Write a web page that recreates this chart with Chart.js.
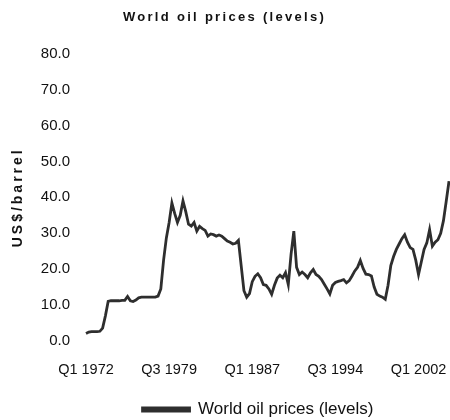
<!DOCTYPE html>
<html><head><meta charset="utf-8">
<script src="https://cdn.jsdelivr.net/npm/chart.js@4/dist/chart.umd.min.js"></script>
<style>html,body{margin:0;padding:0;background:#fff}</style>
</head><body>
<canvas id="c" width="450" height="420"></canvas>
<script>
// Categories: quarterly from Q1 1972 to Q4 2004
const startYear = 1972, endYear = 2004;
const quarters = [];
for (let y = startYear; y <= endYear; y++) for (let q = 1; q <= 4; q++) quarters.push('Q' + q + ' ' + y);
const shownTicks = ['Q1 1972', 'Q3 1979', 'Q1 1987', 'Q3 1994', 'Q1 2002'];
const yTickValues = [0, 10, 20, 30, 40, 50, 60, 70, 80];
const seriesName = 'World oil prices (levels)';
const oilPrices = [
  2.1, 2.5, 2.6, 2.6, 2.6, 2.7, 3.6, 7.0, 11.0, 11.2,
  11.2, 11.2, 11.2, 11.3, 11.3, 12.4, 11.2, 11.0, 11.4, 12.0,
  12.2, 12.2, 12.2, 12.2, 12.2, 12.2, 12.5, 14.5, 22.5, 28.7,
  33.0, 38.4, 35.5, 33.0, 35.0, 39.0, 36.0, 32.5, 32.0, 33.0,
  30.6, 31.9, 31.3, 30.8, 29.2, 29.8, 29.6, 29.2, 29.5, 29.2,
  28.5, 27.8, 27.5, 27.0, 27.2, 28.0, 21.0, 14.0, 12.2, 13.2,
  16.5, 18.0, 18.7, 17.6, 15.7, 15.5, 14.5, 13.0, 15.5, 17.5,
  18.3, 17.6, 19.0, 15.7, 24.1, 30.6, 20.5, 18.5, 19.2, 18.5,
  17.6, 19.0, 19.9, 18.5, 18.0, 17.1, 15.8, 14.5, 13.1, 15.5,
  16.3, 16.6, 16.8, 17.1, 16.2, 16.8, 18.1, 19.5, 20.5, 22.4,
  20.2, 18.6, 18.5, 18.1, 15.0, 13.0, 12.5, 12.2, 11.6, 15.5,
  21.0, 23.5, 25.5, 27.0, 28.5, 29.6, 27.5, 26.0, 25.5, 22.5,
  18.5, 22.0, 25.5, 27.3, 31.0, 26.4, 27.5, 28.2, 30.0, 33.5,
  38.9, 44.5
];

const FONT = "'Liberation Sans', Arial, sans-serif";
const spacingPlugin = {
  id: 'spacing',
  afterLayout(chart) {
    const lg = chart.legend;
    if (lg) { lg.left += 67; lg.top += 8; lg.bottom += 8; }
  },
  beforeDraw(chart) {
    const tb = chart.titleBlock;
    if (tb && !tb._sp) {
      const o = tb.draw;
      tb.draw = function (...a) { const c = chart.ctx; c.save(); c.letterSpacing = '2.3px'; o.apply(this, a); c.restore(); };
      tb._sp = true;
    }
    const ys = chart.scales.y;
    if (ys && !ys._sp) {
      const o = ys.drawTitle;
      ys.drawTitle = function (...a) { const c = chart.ctx; c.save(); c.letterSpacing = '3px'; o.apply(this, a); c.restore(); };
      ys._sp = true;
    }
  }
};

new Chart(document.getElementById('c'), {
  type: 'line',
  data: {
    labels: quarters,
    datasets: [{
      label: seriesName,
      data: oilPrices,
      borderColor: '#2e2e2e',
      backgroundColor: '#2e2e2e',
      borderWidth: 2.8,
      pointRadius: 0,
      tension: 0,
      fill: false
    }]
  },
  options: {
    responsive: false,
    devicePixelRatio: 1,
    animation: false,
    layout: { autoPadding: false, padding: { left: 0, right: 1, top: 0, bottom: 0 } },
    plugins: {
      title: {
        display: true,
        text: seriesName,
        color: '#111',
        font: { family: FONT, size: 13, weight: 'bold' },
        padding: { top: 10, bottom: 28 }
      },
      legend: {
        display: true,
        position: 'bottom',
        labels: {
          color: '#111',
          font: { family: FONT, size: 17 },
          boxWidth: 47,
          boxHeight: 3,
          padding: 2
        }
      },
      tooltip: { enabled: false }
    },
    scales: {
      x: {
        type: 'category',
        grid: { display: true, drawOnChartArea: false, drawTicks: true, tickLength: 20, tickColor: 'rgba(0,0,0,0)', color: 'rgba(0,0,0,0)' },
        border: { display: false },
        ticks: {
          autoSkip: false,
          maxRotation: 0,
          minRotation: 0,
          padding: 0,
          color: '#111',
          font: { family: FONT, size: 14.5 },
          callback: function (val) { const l = this.getLabelForValue(val); return shownTicks.includes(l) ? l : ''; }
        },
        afterFit(s) { s.height = 50; }
      },
      y: {
        min: 0, max: 80,
        grid: { display: false, drawTicks: false },
        border: { display: false },
        afterBuildTicks(s) { s.ticks = yTickValues.map(v => ({ value: v })); },
        ticks: {
          padding: 16,
          color: '#111',
          font: { family: FONT, size: 15 },
          callback: v => Number(v).toFixed(1)
        },
        title: {
          display: true,
          text: 'US$/barrel',
          color: '#111',
          font: { family: FONT, size: 14, weight: 'bold' },
          padding: { top: 10, bottom: 0 }
        },
        afterFit(s) { s.width = 86; }
      }
    }
  },
  plugins: [spacingPlugin]
});
</script>
</body></html>
